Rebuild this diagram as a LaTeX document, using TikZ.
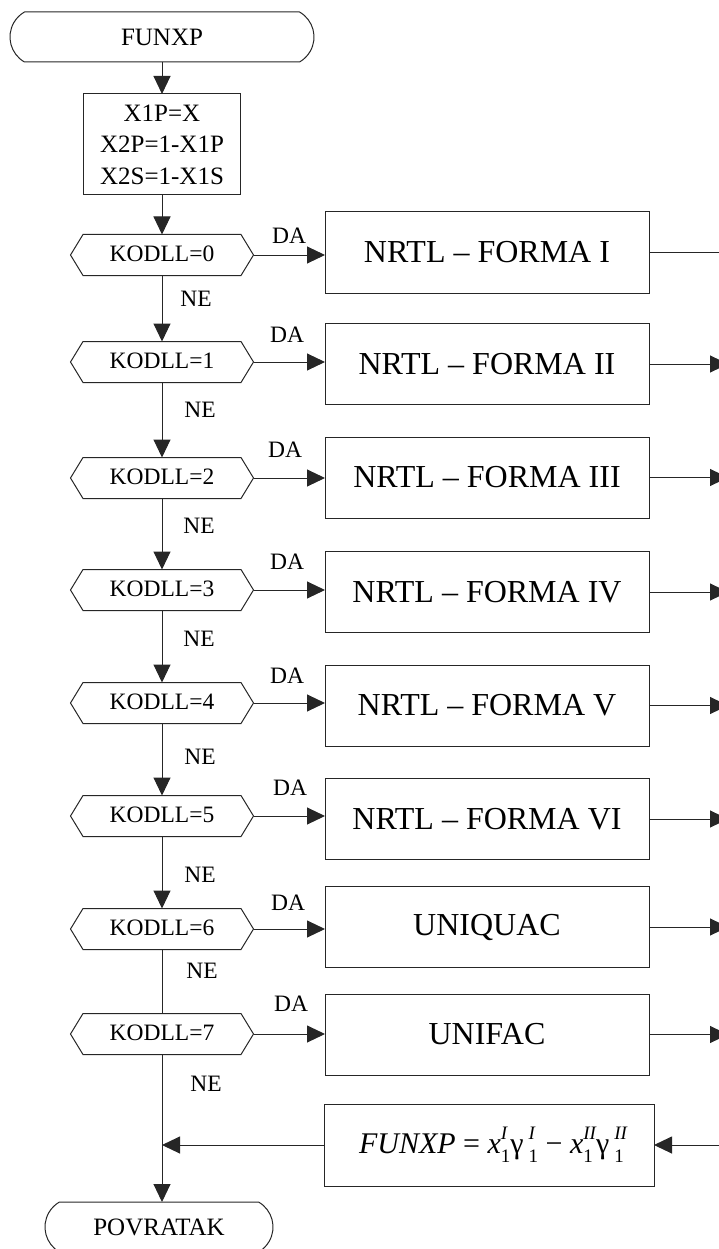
\documentclass[tikz,border=0pt]{standalone}
\usepackage{fontspec}
\setmainfont{Liberation Serif}
\usetikzlibrary{arrows.meta,shapes.misc}
\newcommand{\fsz}[1]{\fontsize{#1}{#1}\selectfont}
\newcommand{\mysupsub}[2]{\setbox0=\hbox{\raisebox{0.46em}{\fsz{19}\itshape #1}}\setbox2=\hbox{\raisebox{-0.32em}{\fsz{19}#2}}\ifdim\wd0>\wd2 \rlap{\box2}\box0 \else\rlap{\box0}\box2 \fi}
\begin{document}
\begin{tikzpicture}[x=1pt,y=-1pt,
  line/.style={draw=black!85,line width=1pt},
  arr/.style={line,-{Triangle[length=18pt,width=17pt]}},
  term/.style={rounded rectangle,rounded rectangle arc length=120,draw=black!85,line width=1pt,minimum height=50,inner sep=0,outer sep=0,font=\fsz{25}},
  hexbox/.style={rectangle,minimum width=158,minimum height=41,inner sep=0,outer sep=0,font=\fsz{23.5}},
  procbox/.style={rectangle,draw=black!85,line width=1pt,minimum width=324,minimum height=81,inner sep=0,outer sep=0,font=\fsz{32}},
  lbl/.style={inner sep=0,outer sep=0,font=\fsz{23.5}}
]
\useasboundingbox (0,0) rectangle (719,1249);

% start and initial box
\node[term,minimum width=304] (s) at (162,37) {FUNXP};
\node[rectangle,draw=black!85,line width=1pt,minimum width=157,minimum height=101,inner sep=0,outer sep=0,align=center,font=\fontsize{25}{31.5}\selectfont] (x) at (162,144.5) {X1P=X\\X2P=1-X1P\\X2S=1-X1S};
\draw[arr] (s.south) -- (x.north);

% decisions and procedure boxes
\foreach \i/\hy/\by/\dx/\dy/\txt in {
0/255/252.5/289/235.5/NRTL – FORMA I,
1/362/364/287/335/NRTL – FORMA II,
2/478/477.5/285/449.5/NRTL – FORMA III,
3/590/592/287/562/NRTL – FORMA IV,
4/703/705.5/287/676/NRTL – FORMA V,
5/816/819/290/788/NRTL – FORMA VI,
6/929/927/288/903/UNIQUAC,
7/1034/1034.5/291/1004/UNIFAC}{
  \node[hexbox] (h\i) at (162,\hy) {\raisebox{2pt}{KODLL=\i}};
  \draw[line] (h\i.north west) -- (h\i.north east) -- ([xshift=12.5pt]h\i.east) -- (h\i.south east) -- (h\i.south west) -- ([xshift=-12.5pt]h\i.west) -- cycle;
  \coordinate (t\i) at ([xshift=12.5pt]h\i.east);
  \node[procbox] (b\i) at (487,\by) {\txt};
  \node[lbl] (da\i) at (\dx,\dy) {DA};
  \draw[arr] (t\i) -- (t\i -| b\i.west);
}

% NE labels
\node[lbl] (ne0) at (196,299) {NE};
\node[lbl] (ne1) at (200,410) {NE};
\node[lbl] (ne2) at (199,526) {NE};
\node[lbl] (ne3) at (199,639) {NE};
\node[lbl] (ne4) at (200,757) {NE};
\node[lbl] (ne5) at (200,875) {NE};
\node[lbl] (ne6) at (202,971) {NE};
\node[lbl] (ne7) at (206,1084) {NE};

% main vertical flow
\draw[arr] (x.south) -- (h0.north);
\foreach \i/\j in {0/1,1/2,2/3,3/4,4/5,5/6}{
  \draw[arr] (h\i.south) -- (h\j.north);
}
\draw[line] (h6.south) -- (h7.north);

% formula box and end
\node[procbox,minimum width=330,minimum height=82,font=\fsz{30}] (f) at (489,1145)
  {\hspace*{8pt}\textit{FUNXP} = \textit{x}\mysupsub{I}{1}γ\,\mysupsub{I}{1} − \textit{x}\mysupsub{II}{1}γ\,\mysupsub{II}{1}};
\node[term,minimum width=228] (p) at (159,1227) {POVRATAK};
\coordinate (j) at (162,1145);
\draw[line] (h7.south) -- (j);
\draw[arr] (j) -- (j |- p.north);
\draw[arr] (f.west) -- (j);

% right-hand return connectors (continue beyond the page edge)
\coordinate (e0) at (721,0);
\coordinate (e) at (728,0);
\draw[line] (b0.east) -- (b0.east -| e0);
\foreach \i in {1,...,7}{
  \draw[arr] (b\i.east) -- (b\i.east -| e);
}
\coordinate (fr) at (728,1145);
\draw[arr] (fr) -- (f.east);
\end{tikzpicture}
\end{document}
